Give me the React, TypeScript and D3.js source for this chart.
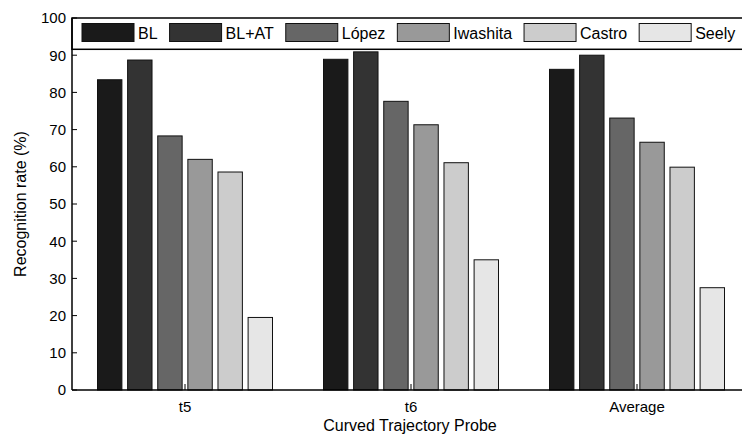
import * as d3 from "d3";
import { useEffect, useRef } from "react";

const groups = ["t5", "t6", "Average"];
const methods = ["BL", "BL+AT", "López", "Iwashita", "Castro", "Seely"];
const colors = ["#1a1a1a", "#333333", "#666666", "#999999", "#cccccc", "#e6e6e6"];
const t5Values = [83.4, 88.7, 68.3, 62.0, 58.6, 19.5];
const t6Values = [88.9, 90.9, 77.6, 71.3, 61.1, 35.0];
const avgValues = [86.2, 90.0, 73.1, 66.6, 59.9, 27.5];
const yTicks = [0, 10, 20, 30, 40, 50, 60, 70, 80, 90, 100];

const App = () => {
  const ref = useRef(null);

  useEffect(() => {
    const width = 742;
    const height = 436;
    const font = "'Liberation Sans', Arial, sans-serif";

    d3.select(ref.current).selectAll("*").remove();

    const svg = d3
      .select(ref.current)
      .append("svg")
      .attr("width", width)
      .attr("height", height)
      .style("position", "absolute")
      .style("left", "0px")
      .style("top", "0px")
      .style("font-family", font);

    const left = 72;
    const xRight = 750;
    const y = d3.scaleLinear().domain([0, 100]).range([390, 18]);
    const x0 = d3.scaleBand().domain(groups).range([left, xRight]);
    const x1 = d3.scaleBand().domain(methods).range([-87.5, 87.5]).paddingInner(0.19);

    const data = groups.map((g, i) => ({
      group: g,
      values: [t5Values, t6Values, avgValues][i],
    }));

    // bars
    const gBars = svg
      .selectAll("g.grp")
      .data(data)
      .enter()
      .append("g")
      .attr("transform", (d) => `translate(${x0(d.group) + x0.bandwidth() / 2},0)`);

    gBars
      .selectAll("rect")
      .data((d) => d.values.map((v, j) => ({ m: methods[j], v, c: colors[j] })))
      .enter()
      .append("rect")
      .attr("x", (d) => x1(d.m))
      .attr("width", x1.bandwidth())
      .attr("y", (d) => y(d.v))
      .attr("height", (d) => y(0) - y(d.v))
      .attr("fill", (d) => d.c)
      .attr("stroke", "#111")
      .attr("stroke-width", 1);

    // legend box
    svg
      .append("rect")
      .attr("x", left)
      .attr("y", y(100))
      .attr("width", xRight - left)
      .attr("height", 31.3)
      .attr("fill", "#fff")
      .attr("stroke", "#000")
      .attr("stroke-width", 1.5);

    let lx = 82;
    methods.forEach((m, i) => {
      svg
        .append("rect")
        .attr("x", lx)
        .attr("y", 23.5)
        .attr("width", 52)
        .attr("height", 18)
        .attr("fill", colors[i])
        .attr("stroke", "#111")
        .attr("stroke-width", 1);
      const t = svg
        .append("text")
        .attr("x", lx + 56)
        .attr("y", 38.5)
        .attr("font-size", 16)
        .attr("fill", "#000")
        .text(m);
      const w = t.node().getComputedTextLength();
      lx = lx + 56 + w + 12;
    });

    // y axis
    svg
      .append("line")
      .attr("x1", left)
      .attr("x2", left)
      .attr("y1", y(0))
      .attr("y2", y(100))
      .attr("stroke", "#000")
      .attr("stroke-width", 1.5);

    yTicks.forEach((t) => {
      svg
        .append("line")
        .attr("x1", left)
        .attr("x2", left + 5)
        .attr("y1", y(t))
        .attr("y2", y(t))
        .attr("stroke", "#000");
      svg
        .append("text")
        .attr("x", left - 6)
        .attr("y", y(t))
        .attr("dy", "0.36em")
        .attr("text-anchor", "end")
        .attr("font-size", 15)
        .text(t);
    });

    // x axis
    svg
      .append("line")
      .attr("x1", left)
      .attr("x2", xRight)
      .attr("y1", y(0))
      .attr("y2", y(0))
      .attr("stroke", "#000")
      .attr("stroke-width", 1.5);

    groups.forEach((g) => {
      const cx = x0(g) + x0.bandwidth() / 2;
      svg
        .append("line")
        .attr("x1", cx)
        .attr("x2", cx)
        .attr("y1", y(0))
        .attr("y2", y(0) - 6)
        .attr("stroke", "#000");
      svg
        .append("text")
        .attr("x", cx)
        .attr("y", 412)
        .attr("text-anchor", "middle")
        .attr("font-size", 15)
        .text(g);
    });

    svg
      .append("text")
      .attr("x", 410)
      .attr("y", 431)
      .attr("text-anchor", "middle")
      .attr("font-size", 16)
      .text("Curved Trajectory Probe");

    svg
      .append("text")
      .attr("transform", `translate(26,${y(50)}) rotate(-90)`)
      .attr("text-anchor", "middle")
      .attr("font-size", 16)
      .text("Recognition rate (%)");
  }, []);

  return <div ref={ref} style={{ width: "742px", height: "436px" }} />;
};

export default App;
